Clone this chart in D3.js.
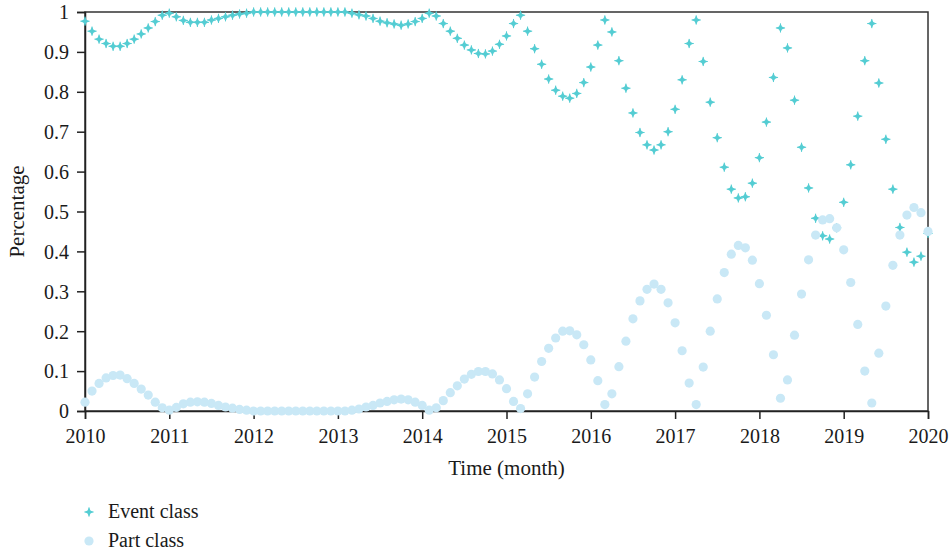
<!DOCTYPE html>
<html>
<head>
<meta charset="utf-8">
<script src="https://cdn.jsdelivr.net/npm/d3@7"></script>
<style>
  body { margin: 0; background: #fff; }
  svg text { font-family: 'Liberation Serif', 'Times New Roman', serif; fill: #1a1a1a; }
</style>
</head>
<body>
<div class="canvas"></div>
<script>
// data: monthly shares, Jan 2010 .. Jan 2020
const startYear = 2010;
const yearTicks = [2010, 2011, 2012, 2013, 2014, 2015, 2016, 2017, 2018, 2019, 2020];
const pctTicks = [0, 0.1, 0.2, 0.3, 0.4, 0.5, 0.6, 0.7, 0.8, 0.9, 1];

const eventClass = [
  0.977, 0.952, 0.932, 0.921, 0.914, 0.914, 0.921, 0.932, 0.945, 0.96, 0.976, 0.992,
  0.997, 0.988, 0.979, 0.974, 0.974, 0.974, 0.98, 0.984, 0.988, 0.992, 0.995, 0.997,
  1, 1, 1, 1, 1, 1, 1, 1, 1, 1, 1, 1,
  1, 1, 0.997, 0.993, 0.99, 0.984, 0.977, 0.973, 0.97, 0.967, 0.97, 0.976,
  0.984, 0.997, 0.99, 0.971, 0.952, 0.934, 0.917, 0.905, 0.896, 0.895, 0.902, 0.919,
  0.94, 0.971, 0.992, 0.952, 0.908, 0.869, 0.832, 0.804, 0.789, 0.784, 0.796, 0.823,
  0.862, 0.917, 0.98, 0.95, 0.878, 0.809, 0.747, 0.698, 0.667, 0.654, 0.667, 0.7,
  0.756, 0.83, 0.921, 0.98, 0.876, 0.774, 0.685, 0.611, 0.556, 0.534, 0.537, 0.571,
  0.635, 0.724, 0.836, 0.96, 0.91, 0.779, 0.661, 0.559, 0.483, 0.439, 0.431, 0.459,
  0.523, 0.617, 0.739, 0.878, 0.971, 0.822, 0.681, 0.556, 0.46, 0.398, 0.373, 0.388,
  0.445
];

const partClass = [
  0.022, 0.05, 0.069, 0.083, 0.089, 0.09, 0.081, 0.069, 0.055, 0.04, 0.022, 0.008,
  0.002, 0.009, 0.018, 0.022, 0.023, 0.022, 0.019, 0.014, 0.01, 0.007, 0.004, 0.002,
  0, 0, 0, 0, 0, 0, 0, 0, 0, 0, 0, 0,
  0, 0, 0.002, 0.005, 0.01, 0.014, 0.02, 0.024, 0.028, 0.03, 0.028, 0.022,
  0.014, 0.002, 0.008, 0.026, 0.046, 0.063, 0.08, 0.092, 0.099, 0.099, 0.093, 0.078,
  0.056, 0.024, 0.006, 0.043, 0.085, 0.124, 0.157, 0.183, 0.2, 0.201, 0.191, 0.166,
  0.128, 0.076, 0.016, 0.043, 0.111, 0.175, 0.231, 0.276, 0.305, 0.318, 0.305, 0.271,
  0.221, 0.151, 0.07, 0.016, 0.11, 0.2, 0.281, 0.347, 0.393, 0.415, 0.409, 0.378,
  0.319, 0.24, 0.141, 0.032, 0.078, 0.19, 0.293, 0.379, 0.441, 0.479, 0.482, 0.459,
  0.404, 0.322, 0.217, 0.1, 0.02, 0.145, 0.263, 0.365, 0.441, 0.491, 0.51, 0.497,
  0.45
];

const seriesNames = ['Event class', 'Part class'];
const starColor = '#55cdd3';
const dotColor = '#c9e8f6';

// !---------------------------------------------------------- graph

const dims = { width: 952, height: 555, left: 85, right: 928, top: 12, bottom: 411 };

const svg = d3.select('.canvas')
  .append('svg')
  .attr('width', dims.width)
  .attr('height', dims.height);

const x = d3.scaleLinear().domain([2010, 2020]).range([dims.left, dims.right]);
const y = d3.scaleLinear().domain([0, 1]).range([dims.bottom, dims.top]);

// 4 point star marker: thin cross with a small diamond in the middle
const starPath = (r, w) =>
  `M0,${-r}L${w},${-w}L${r},0L${w},${w}L0,${r}L${-w},${w}L${-r},0L${-w},${-w}Z`;

const drawStar = (g) => {
  g.append('path')
    .attr('d', starPath(4.4, 1.5))
    .attr('fill', starColor);
  g.append('path')
    .attr('d', 'M0,-4.6V4.6M-4.6,0H4.6')
    .attr('stroke', starColor)
    .attr('stroke-width', 1);
};

// frame (top + right)
svg.append('rect')
  .attr('x', dims.left)
  .attr('y', dims.top)
  .attr('width', dims.right - dims.left)
  .attr('height', dims.bottom - dims.top)
  .attr('fill', 'none')
  .attr('stroke', '#333')
  .attr('stroke-width', 1.5);

const xAxis = d3.axisBottom(x)
  .tickValues(yearTicks)
  .tickFormat(d3.format('d'))
  .tickSizeOuter(0)
  .tickSize(8)
  .tickPadding(5);

const yAxis = d3.axisLeft(y)
  .tickValues(pctTicks)
  .tickFormat((d) => (d === 0 || d === 1 ? d3.format('d')(d) : d3.format('.1f')(d)))
  .tickSizeOuter(0)
  .tickSize(8)
  .tickPadding(8);

const gx = svg.append('g')
  .attr('transform', `translate(0, ${dims.bottom})`)
  .call(xAxis);

const gy = svg.append('g')
  .attr('transform', `translate(${dims.left}, 0)`)
  .call(yAxis);

[gx, gy].forEach((g) => {
  g.selectAll('path, line').attr('stroke', '#222').attr('stroke-width', 1.5);
  g.selectAll('text')
    .attr('font-size', '20px')
    .attr('fill', '#1a1a1a')
    .style('font-family', "'Liberation Serif', serif");
});
gx.selectAll('text').attr('dy', '0.95em');
gy.selectAll('text').attr('dy', '0.34em');

// axis titles
svg.append('text')
  .attr('x', (dims.left + dims.right) / 2)
  .attr('y', 475)
  .attr('text-anchor', 'middle')
  .attr('font-size', '21px')
  .text('Time (month)');

svg.append('text')
  .attr('transform', `translate(24, ${(dims.top + dims.bottom) / 2}) rotate(-90)`)
  .attr('text-anchor', 'middle')
  .attr('font-size', '21px')
  .text('Percentage');

// points
const months = eventClass.map((d, i) => startYear + i / 12);

svg.append('g')
  .selectAll('g')
  .data(eventClass)
  .enter()
  .append('g')
  .attr('transform', (d, i) => `translate(${x(months[i])}, ${y(d)})`)
  .each(function () {
    drawStar(d3.select(this));
  });

svg.append('g')
  .selectAll('circle')
  .data(partClass)
  .enter()
  .append('circle')
  .attr('cx', (d, i) => x(months[i]))
  .attr('cy', (d) => y(d))
  .attr('r', 4.6)
  .attr('fill', dotColor);

// legend
const legend = svg.append('g').attr('transform', 'translate(89, 512)');

drawStar(legend.append('g'));

legend.append('circle')
  .attr('cy', 29)
  .attr('r', 4.6)
  .attr('fill', dotColor);

legend.selectAll('text')
  .data(seriesNames)
  .enter()
  .append('text')
  .attr('x', 19)
  .attr('y', (d, i) => 6 + i * 29)
  .attr('font-size', '20px')
  .text((d) => d);
</script>
</body>
</html>
